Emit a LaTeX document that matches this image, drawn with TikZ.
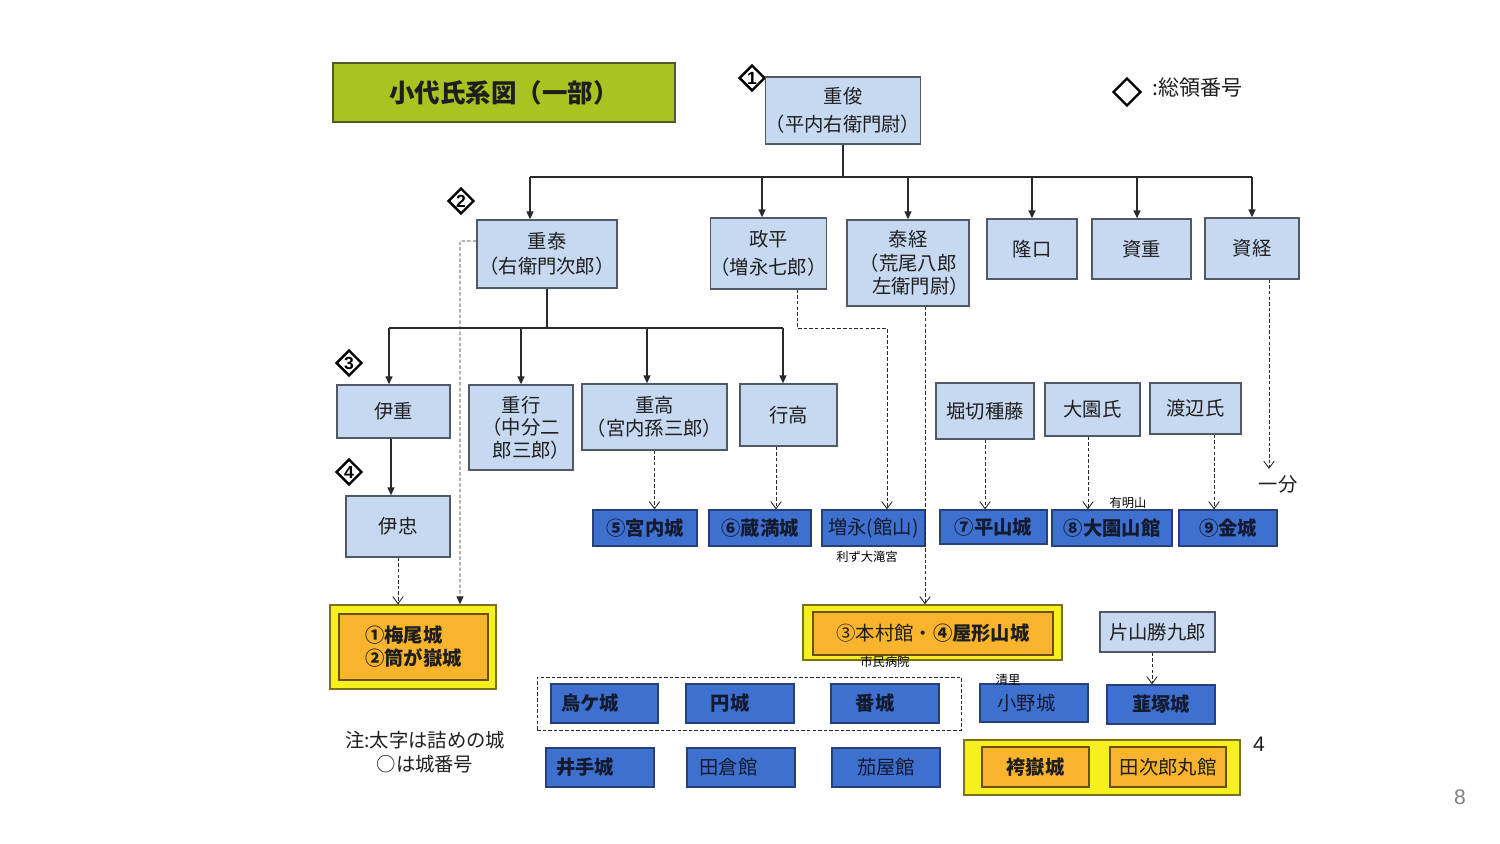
\documentclass[tikz,border=0pt]{standalone}
\usepackage{fontspec}
\setmainfont{Noto Sans CJK JP}
\newfontfamily\latinfont{Liberation Sans}
\usetikzlibrary{arrows.meta,shapes.geometric,calc}
\definecolor{lbfill}{HTML}{C6D9F1}
\definecolor{lbline}{HTML}{505A66}
\definecolor{dbfill}{HTML}{3E71CF}
\definecolor{dbline}{HTML}{25407A}
\definecolor{ofill}{HTML}{F8B42C}
\definecolor{oline}{HTML}{6A5010}
\definecolor{yfill}{HTML}{F6F11E}
\definecolor{yline}{HTML}{7A7020}
\definecolor{tfill}{HTML}{A9C320}
\definecolor{tline}{HTML}{55582A}
\definecolor{txt}{HTML}{1E1E1E}
\definecolor{ctxt}{HTML}{141A30}
\definecolor{lnc}{HTML}{2A2A2A}
\begin{document}
\begin{tikzpicture}[x=0.02cm,y=-0.02cm,
  sz/.style 2 args={minimum width=#1*0.02cm,minimum height=#2*0.02cm},
  person/.style={draw=lbline,fill=lbfill,line width=0.8pt,inner sep=0pt,align=center,font=\fontsize{11}{14}\selectfont,text=txt},
  castle/.style={draw=dbline,fill=dbfill,line width=0.8pt,inner sep=0pt,align=center,font=\fontsize{11}{14}\selectfont,text=ctxt},
  bcastle/.style={castle,font=\fontsize{11}{14}\selectfont\bfseries},
  ylw/.style={draw=yline,fill=yfill,line width=0.8pt,inner sep=0pt},
  org/.style={draw=oline,fill=ofill,line width=0.8pt,inner sep=0pt,align=center,font=\fontsize{11}{14}\selectfont,text=txt},
  dia/.style={diamond,draw=black,line width=1.4pt,minimum width=0.52cm,minimum height=0.52cm,inner sep=0pt,font=\latinfont\fontsize{10}{10}\selectfont\bfseries},
  ln/.style={draw=lnc,line width=0.7pt},
  arr/.style={ln,-{Triangle[length=4.5pt,width=4pt]}},
  darr/.style={draw=lnc,line width=0.5pt,dash pattern=on 2pt off 1.2pt,-{Straight Barb[length=4pt,width=6pt]}},
  darrF/.style={draw=lnc,line width=0.5pt,dash pattern=on 2pt off 1.2pt,-{Triangle[length=4.5pt,width=4pt]}},
  hand/.style={font=\fontsize{7}{7}\selectfont,text=black,inner sep=0pt},
  plain/.style={font=\fontsize{11}{14}\selectfont,text=txt,inner sep=0pt}
]
\useasboundingbox[fill=white] (0,0) rectangle (1500,844);

% title
\node[draw=tline,fill=tfill,line width=0.8pt,sz={342}{59},font=\fontsize{14.5}{16}\selectfont\bfseries,text=txt] (ttl) at (504,92.5) {小代氏系図（一部）};

% legend
\node[diamond,draw=black,line width=1.3pt,minimum width=0.56cm,minimum height=0.56cm,inner sep=0pt] (lg) at (1127,92) {};
\node[plain,anchor=west,font=\fontsize{12}{14}\selectfont] (lgt) at (1152,88) {:総領番号};

% diamonds
\node[dia] (d1) at (752,78) {1};
\node[dia] (d2) at (461,201) {2};
\node[dia] (d3) at (349,363) {3};
\node[dia] (d4) at (349,472) {4};

% persons
\node[person,sz={148}{67},font=\fontsize{11}{16}\selectfont] (jt) at (843,110.5) {重俊\\（平内右衛門尉）};
\node[person,sz={140}{68}] (st) at (547,254) {重泰\\（右衛門次郎）};
\node[person,sz={113}{71},font=\fontsize{11}{16}\selectfont] (mh) at (768.5,253.5) {政平\\（増永七郎）};
\node[person,sz={122}{86},font=\fontsize{11}{13.3}\selectfont] (yt) at (908,263) {泰経\\（荒尾八郎\\\hspace*{1.3em}左衛門尉）};
\node[person,sz={90}{60}] (ry) at (1032,249) {隆口};
\node[person,sz={99}{60}] (sj) at (1141.5,249) {資重};
\node[person,sz={94}{61}] (zk) at (1252,248.5) {資経};

\node[person,sz={113}{53}] (ij) at (393.5,411.5) {伊重};
\node[person,sz={104}{85},font=\fontsize{11}{12.8}\selectfont] (sy) at (521,427.5) {重行\\（中分二\\\hspace*{1.1em}郎三郎）};
\node[person,sz={145}{66},font=\fontsize{11}{13}\selectfont] (sg) at (654.5,417) {重高\\（宮内孫三郎）};
\node[person,sz={97}{62}] (yk) at (788.5,415) {行高};
\node[person,sz={104}{61}] (it) at (398,526.5) {伊忠};

\node[person,sz={98}{56}] (hk) at (985,411) {堀切種藤};
\node[person,sz={95}{53}] (oz) at (1092.5,409.5) {大園氏};
\node[person,sz={91}{51}] (wt) at (1195.5,408.5) {渡辺氏};
\node[person,sz={115}{40}] (ky) at (1157.5,632) {片山勝九郎};

\node[plain] (ichibu) at (1278,484) {一分};

% castles row
\node[bcastle,sz={104}{36}] (c5) at (645,528) {⑤宮内城};
\node[bcastle,sz={102}{36}] (c6) at (760,528) {⑥蔵満城};
\node[castle,sz={103}{36}] (mn) at (873.5,528) {増永(館山)};
\node[bcastle,sz={107}{34}] (c7) at (993.5,527) {⑦平山城};
\node[bcastle,sz={120}{36}] (c8) at (1112,528) {⑧大園山館};
\node[bcastle,sz={98}{36}] (c9) at (1228,528) {⑨金城};

% yellow/orange boxes
\node[ylw,sz={166}{84}] (umo) at (413,647) {};
\node[org,sz={149}{66},align=left,font=\fontsize{11}{13}\selectfont\bfseries] (umi) at (413.5,647) {①梅尾城\\②筒が嶽城};
\node[ylw,sz={259}{55}] (hmo) at (932.5,632.5) {};
\node[org,sz={240}{43}] (hmi) at (933,633.5) {③本村館・\textbf{④屋形山城}};

% dashed group
\node[draw=lnc,line width=0.5pt,dash pattern=on 2pt off 1.2pt,sz={424}{53},inner sep=0pt] (grp) at (749,703.5) {};
\node[bcastle,sz={107}{39},text width=1.74cm,align=left,inner xsep=0.2cm] (ka) at (604.5,703.5) {烏ケ城};
\node[bcastle,sz={108}{39}] (en) at (740,703.5) {\hspace*{-0.4cm}円城};
\node[bcastle,sz={108}{39}] (bn) at (885,703.5) {\hspace*{-0.4cm}番城};
\node[castle,sz={108}{38}] (on) at (1034,703) {\hspace*{-0.3cm}小野城};
\node[bcastle,sz={108}{39}] (nz) at (1161,704.5) {韮塚城};
\node[bcastle,sz={108}{39},text width=1.76cm,align=left,inner xsep=0.2cm] (id) at (600,767.5) {井手城};
\node[castle,sz={108}{39}] (tk) at (741,767.5) {\hspace*{-0.5cm}田倉館};
\node[castle,sz={108}{39}] (ny) at (886,767.5) {茄屋館};

\node[ylw,sz={276}{55}] (gro) at (1102,767.5) {};
\node[org,sz={107}{40},font=\fontsize{11}{14}\selectfont\bfseries] (hb) at (1035.5,767) {袴嶽城};
\node[org,sz={116}{40}] (tj) at (1168,767) {田次郎丸館};
\node[plain,font=\latinfont\fontsize{12}{14}\selectfont] (four) at (1259,744) {4};

% note
\node[plain,align=center,font=\fontsize{11}{14}\selectfont] (note) at (425,752) {注:太字は詰めの城\\○は城番号};
\node[plain,text=gray,font=\latinfont\fontsize{12}{14}\selectfont] (pg) at (1460,797) {8};

% handwritten notes
\node[hand] (h1) at (867,557) {利ず大滝宮};
\node[hand] (h2) at (1128,503) {有明山};
\node[hand] (h3) at (885,662) {市民病院};
\node[hand] (h4) at (1008,680) {清里};

% first generation bus
\coordinate (busA) at (843,177);
\draw[ln] (jt.south) -- (busA);
\draw[ln] ([xshift=-0.34cm]st.north |- busA) -- (zk.north |- busA);
\foreach \n/\s in {st/-0.34,mh/-0.13,yt/0,ry/0,sj/-0.09,zk/0}
  \draw[arr] ([xshift=\s cm]\n.north |- busA) -- ([xshift=\s cm]\n.north);

% second generation bus
\coordinate (busB) at (547,328);
\draw[ln] (st.south) -- (busB);
\draw[ln] ([xshift=-0.09cm]ij.north |- busB) -- ([xshift=-0.11cm]yk.north |- busB);
\foreach \n/\s in {ij/-0.09,sy/0,sg/-0.15,yk/-0.11}
  \draw[arr] ([xshift=\s cm]\n.north |- busB) -- ([xshift=\s cm]\n.north);
\draw[arr] ([xshift=-0.05cm]ij.south) -- ([xshift=-0.05cm]ij.south |- it.north);

% dashed links
\draw[darr] (sg.south) -- (sg.south |- c5.north);
\draw[darr] ([xshift=-0.25cm]yk.south) -- ([xshift=-0.25cm]yk.south |- c6.north);
\coordinate (mhbend) at (887,328);
\draw[darr] ([xshift=0.57cm]mh.south) |- (mhbend) -- (mhbend |- mn.north);
\draw[darr] ([xshift=0.34cm]yt.south) -- ([xshift=0.34cm]yt.south |- hmo.north);
\draw[darr] (hk.south) -- (hk.south |- c7.north);
\draw[darr] ([xshift=-0.09cm]oz.south) -- ([xshift=-0.09cm]oz.south |- c8.north);
\draw[darr] ([xshift=0.37cm]wt.south) -- ([xshift=0.37cm]wt.south |- c9.north);
\draw[darr] ([xshift=0.34cm]zk.south) -- ([xshift=0.34cm,yshift=0.12cm]zk.south |- ichibu.north);
\coordinate (stbend) at (460,241);
\draw[darrF] ([yshift=0.26cm]st.west) -- (stbend) -- (stbend |- umo.north);
\draw[darr] (it.south) -- (it.south |- umo.north);
\draw[darr] ([xshift=-0.11cm]ky.south) -- ([xshift=-0.11cm]ky.south |- nz.north);
\end{tikzpicture}
\end{document}
